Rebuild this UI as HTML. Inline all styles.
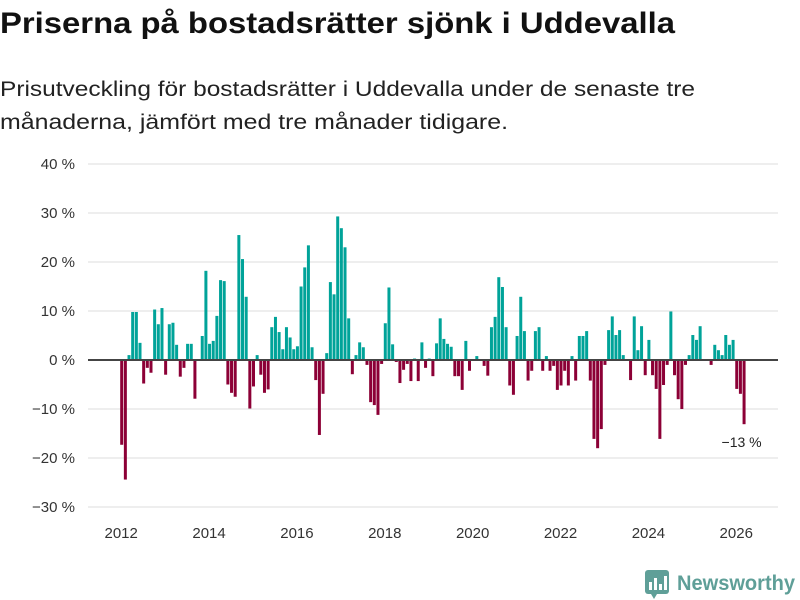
<!DOCTYPE html>
<html><head><meta charset="utf-8">
<style>
body{margin:0;background:#fff;width:800px;height:600px;overflow:hidden;font-family:"Liberation Sans",sans-serif;}
svg{display:block}
</style></head>
<body>
<svg id="chart" width="800" height="600" viewBox="0 0 800 600">
  <text x="0" y="33" font-size="30" font-weight="bold" fill="#111" textLength="675" lengthAdjust="spacingAndGlyphs">Priserna på bostadsrätter sjönk i Uddevalla</text>
  <text x="0" y="96" font-size="21" fill="#222" textLength="695" lengthAdjust="spacingAndGlyphs">Prisutveckling för bostadsrätter i Uddevalla under de senaste tre</text>
  <text x="0" y="129" font-size="21" fill="#222" textLength="508" lengthAdjust="spacingAndGlyphs">månaderna, jämfört med tre månader tidigare.</text>
  <g id="grid"></g>
  <g id="yticks"></g>
  <g id="bars"></g>
  <line id="zeroline" x1="88" x2="778" stroke="#444" stroke-width="2"/>
  <g id="xticks"></g>
  <text id="annot" font-size="14" fill="#222" text-anchor="middle">−13 %</text>
  <g>
    <rect x="645" y="570" width="24" height="24" rx="3" fill="#5f9f98"/>
    <rect x="649" y="582" width="3" height="8" fill="#fff"/>
    <rect x="654" y="578" width="3" height="12" fill="#fff"/>
    <rect x="659" y="584" width="3" height="6" fill="#fff"/>
    <rect x="664" y="576" width="3" height="14" fill="#fff"/>
    <polygon points="651,594 657,594 654,599" fill="#5f9f98"/>
    <text x="677" y="590" font-size="21" font-weight="bold" fill="#5f9f98" textLength="118" lengthAdjust="spacingAndGlyphs">Newsworthy</text>
  </g>
</svg>
<script>
const startYear = 2012;
const values = [
-17.3,-24.4,1,9.8,9.8,3.5,-4.8,-1.6,-2.6,10.3,7.3,10.6,-3,7.3,7.6,3.1,-3.4,-1.6,3.3,3.3,
-7.9,0,4.9,18.2,3.3,3.9,9.0,16.3,16.1,-5,-6.7,-7.5,25.5,20.6,12.9,-9.9,-5.4,1,-3,-6.7,
-6,6.7,8.8,5.7,
2.2,6.7,4.6,2.2,2.8,15.0,18.9,23.4,2.6,-4.1,-15.3,-6.9,1.4,15.9,13.4,29.3,26.9,23.0,8.5,-2.9,
1,3.6,2.6,-1,-8.6,-9.2,-11.2,-0.8,7.5,14.8,3.2,-0.4,-4.7,-2,-0.8,-4.3,0.3,-4.3,3.6,-1.6,
0.3,-3.3,3.4,8.5,
4.3,3.3,2.7,-3.3,-3.3,-6.1,3.9,-2.2,0,0.8,0,-1.2,-3.2,6.7,8.8,16.9,14.9,6.7,-5.2,-7.1,
4.9,12.9,5.9,-4.2,-2.2,5.9,6.7,-2.2,0.8,-2.2,-1.2,-6.1,-5.2,-2.2,-5.2,0.8,-4.2,4.9,4.9,5.9,
-4.2,
-16.1,-18,-14.1,-1,6.1,8.9,5.1,6.1,1,0,-4.1,8.9,2,6.9,-3.1,4.1,-3.1,-5.9,-16.1,-5.1,
-1,9.9,-3.1,-8,-10,-1,1,5.1,4.1,6.9,0,0,-1,3.1,2,1,5.1,3.1,4.1,-5.9,-6.9,-13.1
];
const yTicks = [40,30,20,10,0,-10,-20,-30];
const yTickLabels = ["40 %","30 %","20 %","10 %","0 %","−10 %","−20 %","−30 %"];
const xTickYears = [2012,2014,2016,2018,2020,2022,2024,2026];
const lastLabel = "−13 %";

const NS="http://www.w3.org/2000/svg";
const y0=360, pxPer=4.9;
function yScale(v){return y0 - v*pxPer;}
const monthPx=3.661, x2012=120.2;
function xScale(i){return x2012 + i*monthPx;}
function yearX(yr){return x2012 + (yr-startYear)*12*monthPx + 1;}

const grid=document.getElementById('grid'), yt=document.getElementById('yticks');
yTicks.forEach((t,k)=>{
  if(t!==0){
    const l=document.createElementNS(NS,'line');
    l.setAttribute('x1',88);l.setAttribute('x2',778);
    l.setAttribute('y1',yScale(t));l.setAttribute('y2',yScale(t));
    l.setAttribute('stroke','#ddd');l.setAttribute('stroke-width',1);
    
    
    grid.appendChild(l);
  }
  const tx=document.createElementNS(NS,'text');
  tx.setAttribute('x',75);tx.setAttribute('y',yScale(t)+5);
  tx.setAttribute('text-anchor','end');tx.setAttribute('font-size','15');tx.setAttribute('fill','#333');
  tx.textContent=yTickLabels[k];
  
  
  yt.appendChild(tx);
});
const z=document.getElementById('zeroline');
z.setAttribute('y1',yScale(0));z.setAttribute('y2',yScale(0));

const bars=document.getElementById('bars');
values.forEach((v,i)=>{
  const r=document.createElementNS(NS,'rect');
  r.setAttribute('x',xScale(i));
  r.setAttribute('width',3.0);
  r.setAttribute('y',Math.min(yScale(v),yScale(0)));
  r.setAttribute('height',Math.abs(yScale(v)-yScale(0)));
  r.setAttribute('fill',v>=0?'#00a399':'#8c0036');
  
  
  bars.appendChild(r);
});

const xt=document.getElementById('xticks');
xTickYears.forEach(yr=>{
  const tx=document.createElementNS(NS,'text');
  tx.setAttribute('x',yearX(yr));tx.setAttribute('y',538);
  tx.setAttribute('text-anchor','middle');tx.setAttribute('font-size','15');tx.setAttribute('fill','#333');
  tx.textContent=yr;
  
  
  xt.appendChild(tx);
});
const a=document.getElementById('annot');
const li=values.length-1;
a.setAttribute('x',xScale(li)-1);
a.setAttribute('y',yScale(values[li])+23);
a.textContent=lastLabel;
</script>
</body></html>
